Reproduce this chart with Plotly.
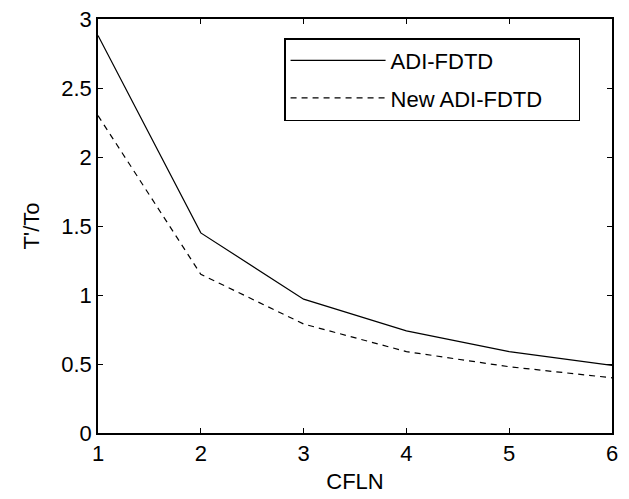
import plotly.graph_objects as go

cfln = [1, 2, 3, 4, 5, 6]
adi_fdtd = [2.88, 1.45, 0.97, 0.74, 0.59, 0.49]
new_adi_fdtd = [2.30, 1.15, 0.79, 0.59, 0.48, 0.40]
series_names = ["ADI-FDTD", "New ADI-FDTD"]
x_ticks = [1, 2, 3, 4, 5, 6]
y_ticks = [0, 0.5, 1, 1.5, 2, 2.5, 3]
y_tick_labels = ["0", "0.5", "1", "1.5", "2", "2.5", "3"]

font_family = "Liberation Sans, Arial, sans-serif"
fs = 22
pad = "\u00a0" * 5  # trailing room so the legend box is as wide as the original

fig = go.Figure()
fig.add_trace(go.Scatter(x=cfln, y=adi_fdtd, mode="lines", name=series_names[0],
                         legendgroup="a",
                         line=dict(color="black", width=1.2, dash="solid")))
fig.add_trace(go.Scatter(x=cfln, y=new_adi_fdtd, mode="lines", name=series_names[1] + pad,
                         legendgroup="b",
                         line=dict(color="black", width=1.2, dash="6px,5px")))

axis_common = dict(showline=True, linecolor="black", linewidth=1.5, mirror="ticks",
                   ticks="inside", ticklen=5, tickcolor="black", tickwidth=1,
                   showgrid=False, zeroline=False, automargin=False,
                   tickfont=dict(family=font_family, size=fs, color="black"))

fig.update_layout(
    width=629, height=499,
    margin=dict(l=98, r=17, t=19, b=66),
    paper_bgcolor="white", plot_bgcolor="white",
    font=dict(family=font_family, color="black"),
    xaxis=dict(range=[1, 6], tickvals=x_ticks,
               title=dict(text="CFLN", font=dict(size=fs), standoff=8),
               **axis_common),
    yaxis=dict(range=[0, 3], tickvals=y_ticks, ticktext=y_tick_labels,
               title=dict(text="T'/To", font=dict(size=fs), standoff=16),
               **axis_common),
    legend=dict(x=0.362, y=0.954, xanchor="left", yanchor="top",
                bgcolor="white", bordercolor="black", borderwidth=1.5,
                font=dict(family=font_family, size=fs, color="black"),
                tracegroupgap=6, itemwidth=95,
                traceorder="grouped"),
    showlegend=True,
)

fig.write_html("out.html", config={"displayModeBar": False},
               post_script="document.body.style.margin='0';document.body.style.overflow='hidden';")
